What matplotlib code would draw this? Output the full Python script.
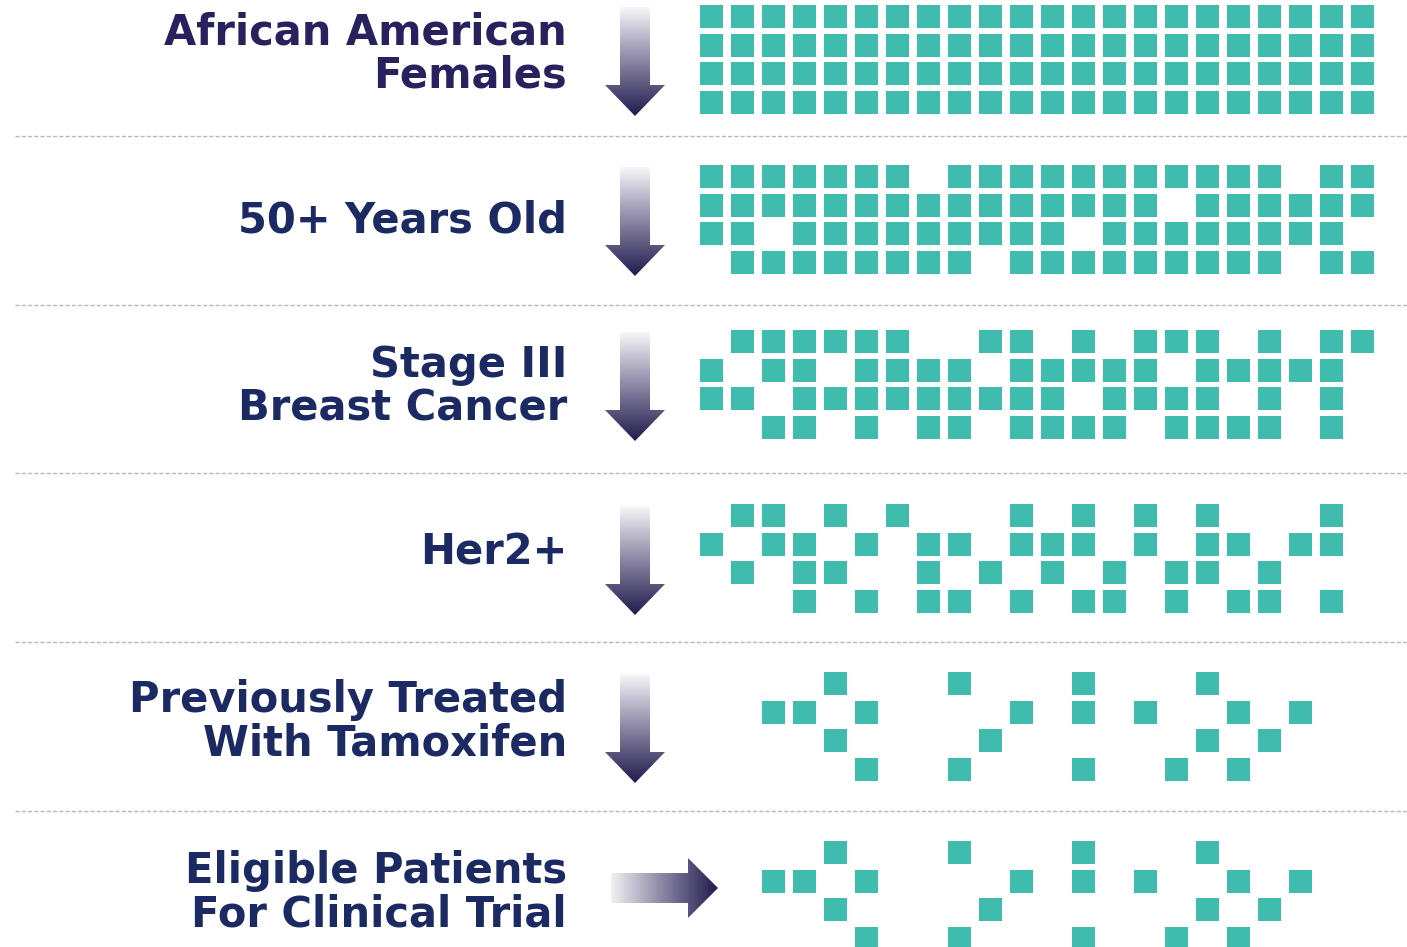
import numpy as np
import matplotlib.pyplot as plt
from matplotlib.patches import Polygon
from matplotlib.colors import LinearSegmentedColormap

# funnel steps, top to bottom
labels = ["African American\nFemales",
          "50+ Years Old",
          "Stage III\nBreast Cancer",
          "Her2+",
          "Previously Treated\nWith Tamoxifen",
          "Eligible Patients\nFor Clinical Trial"]

n_cols = 22
full = list(range(n_cols))

# filled columns for each of the 4 rows of every step
grid_1 = [full, full, full, full]
grid_2 = [[c for c in full if c not in (7, 19)],
          [c for c in full if c != 15],
          [c for c in full if c not in (2, 12, 21)],
          [c for c in full if c not in (0, 9, 19)]]
grid_3 = [[1, 2, 3, 4, 5, 6, 9, 10, 12, 14, 15, 16, 18, 20, 21],
          [0, 2, 3, 5, 6, 7, 8, 10, 11, 12, 13, 14, 16, 17, 18, 19, 20],
          [0, 1, 3, 4, 5, 6, 7, 8, 9, 10, 11, 13, 14, 15, 16, 18, 20],
          [2, 3, 5, 7, 8, 10, 11, 12, 13, 15, 16, 17, 18, 20]]
grid_4 = [[1, 2, 4, 6, 10, 12, 14, 16, 20],
          [0, 2, 3, 5, 7, 8, 10, 11, 12, 14, 16, 17, 19, 20],
          [1, 3, 4, 7, 9, 11, 13, 15, 16, 18],
          [3, 5, 7, 8, 10, 12, 13, 15, 17, 18, 20]]
grid_5 = [[4, 8, 12, 16],
          [2, 3, 5, 10, 12, 14, 17, 19],
          [4, 9, 16, 18],
          [5, 8, 12, 15, 17]]
grid_6 = grid_5
grids = [grid_1, grid_2, grid_3, grid_4, grid_5, grid_6]

# layout (pixels)
W, H = 1407, 947
panel_tops = [5, 165, 330, 504, 672, 841]
label_dy = [49, 55, 57, 48, 50, 52]
separators = [136, 305, 473, 642, 811]
x0, col_pitch, row_pitch, sq = 700, 31.0, 28.5, 23
teal = "#3fbcad"
navy = "#1c2a63"
purple = "#27215e"
dark = "#211b4d"

fig = plt.figure(figsize=(W / 100, H / 100), dpi=100)
ax = fig.add_axes([0, 0, 1, 1])
ax.set_xlim(0, W)
ax.set_ylim(H, 0)
ax.axis("off")

# squares
for top, grid in zip(panel_tops, grids):
    xs, ys = [], []
    for r, cols in enumerate(grid):
        for c in cols:
            xs.append(x0 + c * col_pitch)
            ys.append(top + r * row_pitch)
    ax.bar(xs, sq, width=sq, bottom=ys, align="edge", color=teal, linewidth=0)

# separators
for y in separators:
    ax.plot([15, W], [y, y], color="#b8b8b8", lw=1.0, ls=(0, (3, 1.5)))

# labels
for i, (top, lab) in enumerate(zip(panel_tops, labels)):
    ax.text(567, top + label_dy[i], lab, ha="right", va="center",
            multialignment="right", fontsize=30, fontweight="bold",
            family="DejaVu Sans", color=purple if i == 0 else navy,
            linespacing=1.06)

cmap = LinearSegmentedColormap.from_list("fade", ["#ffffff", "#8d89a6", dark])


def gradient_arrow(pts, extent, vertical):
    grad = np.linspace(0, 1, 256)
    img = grad[:, None] if vertical else grad[None, :]
    im = ax.imshow(img, cmap=cmap, extent=extent, aspect="auto",
                   origin="upper" if vertical else "lower", zorder=2)
    poly = Polygon(pts, closed=True, facecolor="none", edgecolor="none")
    ax.add_patch(poly)
    im.set_clip_path(poly)


# down arrows
for top in panel_tops[:5]:
    t = top + 2
    pts = [(620, t), (650, t), (650, t + 78), (665, t + 78), (635, t + 109),
           (605, t + 78), (620, t + 78)]
    gradient_arrow(pts, [605, 665, t + 109, t - 4], True)

# right arrow for the last step
yc = 888
pts = [(611, yc - 15), (688, yc - 15), (688, yc - 30), (718, yc), (688, yc + 30),
       (688, yc + 15), (611, yc + 15)]
gradient_arrow(pts, [604, 718, yc + 30, yc - 30], False)

fig.savefig("out.png", dpi=100)
